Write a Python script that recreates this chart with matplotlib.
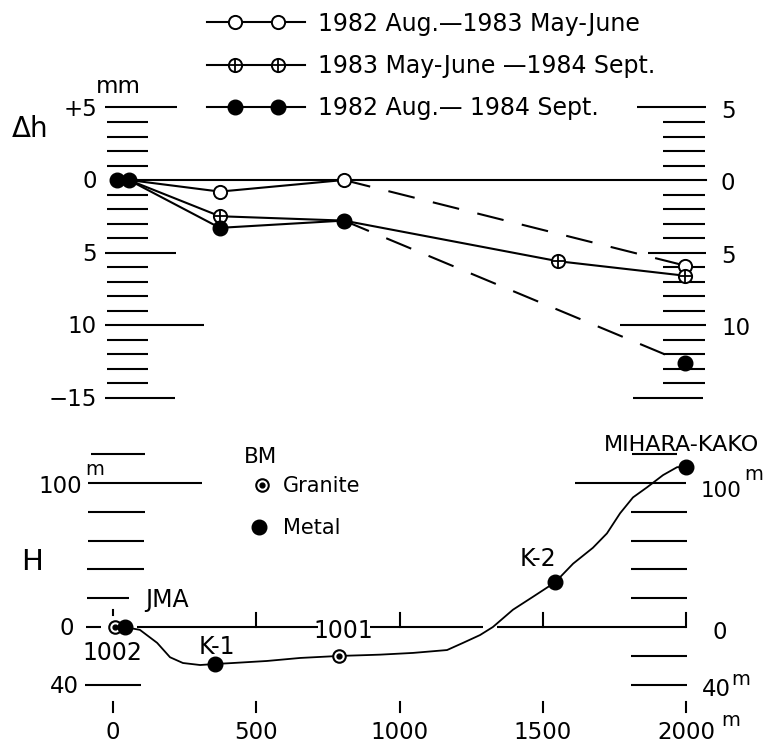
import matplotlib
matplotlib.use('Agg')
import matplotlib.pyplot as plt

# ---------------- data ----------------
# Δh panel (mm, positive = downward / subsidence), x = horizontal distance (m)
open_x = [55, 373, 806, 1996]          # 1982 Aug. — 1983 May-June
open_dh = [0.0, 0.8, 0.0, 5.9]
plus_x = [55, 373, 806, 1553, 1996]    # 1983 May-June — 1984 Sept.
plus_dh = [0.0, 2.5, 2.8, 5.6, 6.6]
fill_x = [15, 55, 373, 806, 1996]      # 1982 Aug. — 1984 Sept.
fill_dh = [0.0, 0.0, 3.3, 2.8, 12.6]
legend_labels = ['1982 Aug.—1983 May-June', '1983 May-June —1984 Sept.', '1982 Aug.— 1984 Sept.']

# H panel: topographic profile (m)
profile_x = [40, 94, 154, 199, 244, 304, 356, 419, 537, 653, 789, 887, 932, 1047, 1166, 1222,
             1281, 1326, 1396, 1466, 1543, 1606, 1675, 1724, 1770, 1815, 1864, 1920, 1969, 2000]
profile_h = [0, -2, -11, -21, -25, -26.4, -25.7, -25, -23.6, -21.5, -20.1, -19.5, -19.2, -18, -16, -11,
             -5.6, 0, 12, 21, 31, 44, 55, 65, 79, 90, 97, 105.5, 111, 111]
bm_names = ['1002', 'JMA', 'K-1', '1001', 'K-2', 'MIHARA-KAKO']
bm_x = [7, 42, 356, 789, 1543, 2000]
bm_h = [0, 0, -26, -20, 31, 111]
bm_type = ['granite', 'metal', 'metal', 'granite', 'metal', 'metal']

dh_ticks = list(range(-5, 16))
dh_left_labels = {-5: '+5', 0: '0', 5: '5', 10: '10', 15: '\u221215'}
dh_right_labels = {-5: '5', 0: '0', 5: '5', 10: '10'}
h_left_ticks = [120, 100, 80, 60, 40, 20, 0, -40]
h_right_ticks = [120, 100, 80, 60, 40, 20, -20, -40]
x_ticks = [0, 500, 1000, 1500, 2000]

# ---------------- layout ----------------
W, HP = 769, 746
X0, PXM = 113.0, 0.2865
DH0, PXMM = 180.0, 14.5
H0, PXHM = 627.0, 1.44
SPLIT = 415
FS = 16.5
FSL = 17
LW = 1.5
K = 'black'

def xm(px):
    return (px - X0) / PXM

def pxx(m):
    return X0 + m * PXM

def py_dh(v):
    return DH0 + v * PXMM

def py_h(v):
    return H0 - v * PXHM

fig = plt.figure(figsize=(W / 100, HP / 100), dpi=100)
ax1 = fig.add_axes([0, 1 - SPLIT / HP, 1, SPLIT / HP])
ax1.set_xlim(xm(0), xm(W))
ax1.set_ylim((SPLIT - DH0) / PXMM, -DH0 / PXMM)
ax2 = fig.add_axes([0, 0, 1, 1 - SPLIT / HP])
ax2.set_xlim(xm(0), xm(W))
ax2.set_ylim((H0 - HP) / PXHM, (H0 - SPLIT) / PXHM)
ov = fig.add_axes([0, 0, 1, 1], zorder=5)
ov.set_xlim(0, W)
ov.set_ylim(HP, 0)
for a in (ax1, ax2, ov):
    a.axis('off')
    a.patch.set_alpha(0)

def txt(x, y, s, ha='center', fs=FS, **kw):
    # y = visual centre of capitals (pixel)
    ov.text(x, y + 0.36 * fs * 100 / 72, s, ha=ha, va='baseline', fontsize=fs,
            family='DejaVu Sans', color=K, **kw)

def sup_m(x, base_y, fs=14):
    ov.text(x, base_y, 'm', ha='left', va='baseline', fontsize=fs,
            family='DejaVu Sans', color=K)

# ---------------- Δh panel ----------------
for v in dh_ticks:
    if v == 0:
        continue
    if v in dh_left_labels:
        right = {-5: 177, 5: 176, 10: 204, 15: 175}[v]
        ax1.plot([xm(105), xm(right)], [v, v], color=K, lw=LW, solid_capstyle='butt')
    else:
        ax1.plot([xm(107), xm(148)], [v, v], color=K, lw=LW, solid_capstyle='butt')
    if v in dh_right_labels:
        left = {-5: 637, 5: 648, 10: 620}[v]
        ax1.plot([xm(left), xm(706)], [v, v], color=K, lw=LW, solid_capstyle='butt')
    elif v == 15:
        ax1.plot([xm(633), xm(703)], [v, v], color=K, lw=LW, solid_capstyle='butt')
    else:
        ax1.plot([xm(663), xm(705)], [v, v], color=K, lw=LW, solid_capstyle='butt')
for v, s in dh_left_labels.items():
    txt(97, py_dh(v), s, ha='right')
for v, s in dh_right_labels.items():
    txt(721, py_dh(v) + 2, s, ha='left')
txt(118, 85, 'mm')
txt(30, 127, '\u0394h', fs=20)

# zero reference line
ax1.plot([open_x[0], xm(706)], [0, 0], color=K, lw=LW)

# connecting lines
DASH = (0, (13, 9))
ax1.plot(open_x[:3], open_dh[:3], color=K, lw=LW)
ax1.plot(open_x[2:], open_dh[2:], color=K, lw=LW, linestyle=DASH)
ax1.plot(plus_x, plus_dh, color=K, lw=LW)
ax1.plot(fill_x[1:4], fill_dh[1:4], color=K, lw=LW)
ax1.plot(fill_x[3:], fill_dh[3:], color=K, lw=LW, linestyle=DASH)

MS = 9.5
ax1.plot(open_x[1:], open_dh[1:], 'o', ms=MS, mfc='white', mec=K, mew=1.4, zorder=4)
ax1.plot(plus_x[1:], plus_dh[1:], 'o', ms=MS, mfc='white', mec=K, mew=1.4, zorder=4)
ax1.plot(plus_x[1:], plus_dh[1:], '+', ms=MS, mec=K, mew=1.3, zorder=4)
ax1.plot(fill_x, fill_dh, 'o', ms=10.5, mfc=K, mec=K, zorder=5)

# legend
for i, (y, lab) in enumerate(zip([22, 65, 107], legend_labels)):
    ov.plot([207, 305], [y, y], color=K, lw=LW)
    for mx in (235, 278):
        if i == 0:
            ov.plot([mx], [y], 'o', ms=MS, mfc='white', mec=K, mew=1.4)
        elif i == 1:
            ov.plot([mx], [y], 'o', ms=MS, mfc='white', mec=K, mew=1.4)
            ov.plot([mx], [y], '+', ms=MS, mec=K, mew=1.3)
        else:
            ov.plot([mx], [y], 'o', ms=10.5, mfc=K, mec=K)
    txt(318, y, lab, ha='left', fs=FSL)

# ---------------- H panel ----------------
lt = {120: (91, 145), 100: (88, 202), 80: (88, 145), 60: (88, 144), 40: (87, 144),
      20: (87, 129), 0: (86, 101), -40: (85, 141)}
for v in h_left_ticks:
    a, b = lt[v]
    ax2.plot([xm(a), xm(b)], [v, v], color=K, lw=LW, solid_capstyle='butt')
rt = {120: (632, 677), 100: (575, 686)}
for v in h_right_ticks:
    a, b = rt.get(v, (631, 687))
    ax2.plot([xm(a), xm(b)], [v, v], color=K, lw=LW, solid_capstyle='butt')

# H = 0 baseline with distance ticks
for a, b in [(137, 318), (370, 483), (497, 686)]:
    ax2.plot([xm(a), xm(b)], [0, 0], color=K, lw=LW, solid_capstyle='butt')
for t in x_ticks[1:]:
    ax2.plot([t, t], [0, 10], color=K, lw=LW)
ax2.plot([0, 0], [8, 12], color=K, lw=LW)
for t in x_ticks:
    ax2.plot([t, t], [-52, -59], color=K, lw=LW)
    txt(pxx(t), 731, str(t), fs=16.5)
sup_m(721, 726)

# profile
ax2.plot(profile_x, profile_h, color=K, lw=1.3)
for x, h, t in zip(bm_x, bm_h, bm_type):
    if t == 'granite':
        ax2.plot([x], [h], 'o', ms=9, mfc='white', mec=K, mew=1.5, zorder=4)
        ax2.plot([x], [h], 'o', ms=3.5, mfc=K, mec=K, zorder=4)
    else:
        ax2.plot([x], [h], 'o', ms=10.5, mfc=K, mec=K, zorder=5)

# station labels
lab_pos = {'1002': (112, 652, 'center', FSL), 'JMA': (145, 598, 'left', FSL),
           'K-1': (217, 645, 'center', FSL), '1001': (343, 630, 'center', FSL),
           'K-2': (538, 557, 'center', FSL), 'MIHARA-KAKO': (604, 443, 'left', 16)}
for n in bm_names:
    x, y, ha, f = lab_pos[n]
    txt(x, y, n, ha=ha, fs=f)

# H scale labels
txt(82, py_h(100) + 2, '100', ha='right')
sup_m(85, 475)
txt(74, py_h(0), '0', ha='right')
txt(79, py_h(-40), '40', ha='right')
txt(701, py_h(100) + 6, '100', ha='left', fs=15.5)
sup_m(744, 480)
txt(713, py_h(0) + 4, '0', ha='left')
txt(702, py_h(-40) + 3, '40', ha='left')
sup_m(731, 685)
txt(32, 559, 'H', fs=21)

# BM legend
txt(260, 455, 'BM', fs=15.5)
ov.plot([262], [485], 'o', ms=9, mfc='white', mec=K, mew=1.5)
ov.plot([262], [485], 'o', ms=3.5, mfc=K, mec=K)
txt(283, 485, 'Granite', ha='left', fs=15)
ov.plot([259], [527], 'o', ms=10.5, mfc=K, mec=K)
txt(283, 527, 'Metal', ha='left', fs=15)

fig.savefig('out.png', dpi=100, facecolor='white')
